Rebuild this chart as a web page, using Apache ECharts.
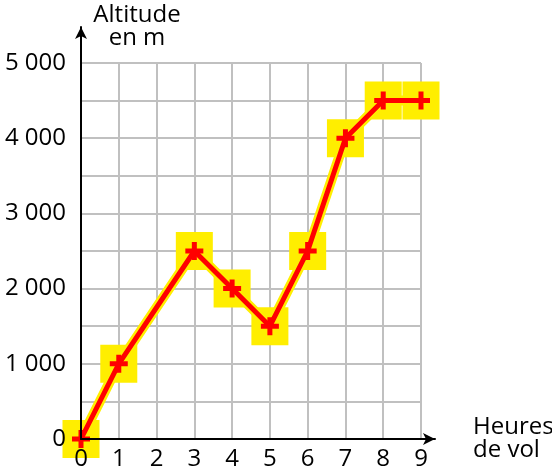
<!DOCTYPE html>
<html><head><meta charset="utf-8">
<script src="https://cdn.jsdelivr.net/npm/echarts@6/dist/echarts.min.js"></script>
<style>html,body{margin:0;padding:0;background:#fff}#c{width:552px;height:473px}</style>
</head><body><div id="c"></div>
<script>
const hours = [0, 1, 3, 4, 5, 6, 7, 8, 9];
const altitude = [0, 1000, 2500, 2000, 1500, 2500, 4000, 4500, 4500];
const yName = 'Altitude\nen m';
const xName = 'Heures\nde vol';

const FONT = 'Open Sans';
const FS = 24;
const pts = hours.map((h, i) => [h, altitude[i]]);
const plus = 'path://M6.5,0H11.5V6.5H18V11.5H11.5V18H6.5V11.5H0V6.5H6.5Z';
const fmtY = v => v % 1000 === 0 ? String(v).replace(/\B(?=(\d{3})+(?!\d))/g, ' ') : '';
const hidden = { axisLine: { show: false }, axisTick: { show: false }, splitLine: { show: false } };
const chart = echarts.init(document.getElementById('c'));
chart.setOption({
  animation: false,
  textStyle: { fontFamily: FONT },
  grid: [
    { left: 81, top: 63, right: 131, bottom: 34, containLabel: false, outerBoundsMode: 'none' },
    { left: 81, top: 27, right: 117, bottom: 34, containLabel: false, outerBoundsMode: 'none' }
  ],
  xAxis: [
    { type: 'value', gridIndex: 0, min: 0, max: 9, interval: 1, z: 0,
      axisLine: { show: false }, axisTick: { show: false }, axisLabel: { show: false },
      splitLine: { show: true, lineStyle: { color: '#c0c0c0', width: 2 } } },
    { type: 'value', gridIndex: 1, min: 0, max: 1, position: 'bottom', z: 8,
      axisLine: { show: true, onZero: false, symbol: ['none', 'arrow'], symbolSize: [9, 12], lineStyle: { color: '#000', width: 2 } },
      axisTick: { show: false }, axisLabel: { show: false }, splitLine: { show: false },
      name: xName, nameLocation: 'end', nameGap: 38, nameMoveOverlap: false,
      nameTextStyle: { fontSize: FS, color: '#000', fontFamily: FONT, align: 'left', verticalAlign: 'middle', lineHeight: 23, padding: [4, 0, 0, 0] } },
    Object.assign({ type: 'value', gridIndex: 0, min: 0, max: 9, interval: 1, position: 'bottom', z: 10,
      axisLabel: { fontSize: FS, color: '#000', fontFamily: FONT, margin: 8, hideOverlap: false } }, hidden)
  ],
  yAxis: [
    { type: 'value', gridIndex: 0, min: 0, max: 5000, interval: 500, z: 0,
      axisLine: { show: false }, axisTick: { show: false }, axisLabel: { show: false },
      splitLine: { show: true, lineStyle: { color: '#c0c0c0', width: 2 } } },
    { type: 'value', gridIndex: 1, min: 0, max: 1, position: 'left', offset: 0, z: 8,
      axisLine: { show: true, onZero: false, symbol: ['none', 'arrow'], symbolSize: [9, 12], lineStyle: { color: '#000', width: 2 } },
      axisTick: { show: false }, axisLabel: { show: false }, splitLine: { show: false },
      name: yName, nameLocation: 'end', nameGap: 0, nameMoveOverlap: false,
      nameTextStyle: { fontSize: FS, color: '#000', fontFamily: FONT, align: 'center', verticalAlign: 'middle', lineHeight: 23, padding: [6, 0, 0, 112] } },
    Object.assign({ type: 'value', gridIndex: 0, min: 0, max: 5000, interval: 500, position: 'left', offset: 0, z: 10,
      axisLabel: { fontSize: FS, color: '#000', fontFamily: FONT, margin: 15, formatter: fmtY, hideOverlap: false } }, hidden)
  ],
  series: [
    { type: 'scatter', xAxisIndex: 0, yAxisIndex: 0, data: pts, symbol: 'rect', symbolSize: [37, 38],
      itemStyle: { color: '#FFEE00', opacity: 1 }, z: 3 },
    { type: 'line', xAxisIndex: 0, yAxisIndex: 0, data: pts, showSymbol: false,
      lineStyle: { color: '#FFEE00', width: 10 }, z: 4 },
    { type: 'line', xAxisIndex: 0, yAxisIndex: 0, data: pts, symbol: plus, symbolSize: 18, showSymbol: true,
      itemStyle: { color: '#FF0000' }, lineStyle: { color: '#FF0000', width: 5 }, z: 5 }
  ]
});
</script></body></html>
